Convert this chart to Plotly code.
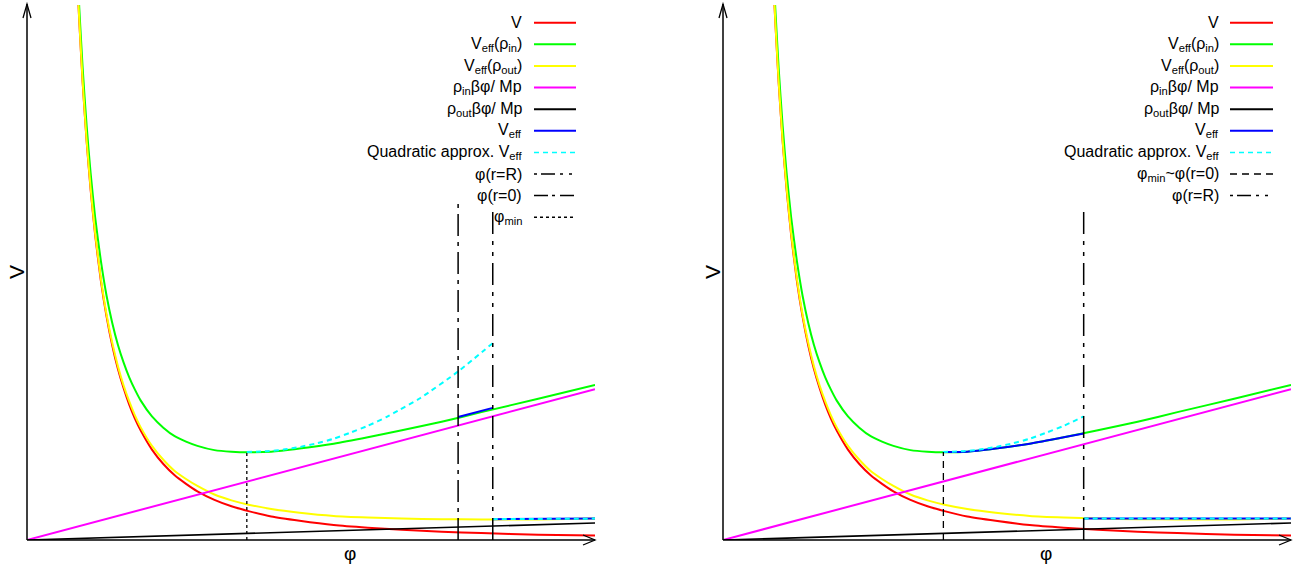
import plotly.graph_objects as go

W, H = 1312, 569

# ---------------- data (phi in axis units 0..10, V in axis units 0..10) ----------------
red_phi = [0.87, 0.92, 0.98, 1.05, 1.12, 1.2, 1.3, 1.4, 1.5, 1.6, 1.7, 1.8, 1.9, 2.0, 2.2, 2.4, 2.6, 2.8,
           3.0, 3.3, 3.6, 3.9, 4.3, 4.8, 5.4, 6.0, 6.6, 7.3, 8.0, 9.0, 10.0]
red_V = [10.8, 9.7, 8.55, 7.45, 6.55, 5.7, 4.85, 4.18, 3.64, 3.2, 2.84, 2.53, 2.27, 2.05, 1.69, 1.42, 1.21, 1.05,
         0.91, 0.75, 0.63, 0.54, 0.44, 0.36, 0.28, 0.23, 0.19, 0.155, 0.13, 0.10, 0.085]

green_phi = [0.89, 0.92, 0.98, 1.05, 1.12, 1.2, 1.3, 1.4, 1.5, 1.6, 1.7, 1.8, 1.9, 2.0, 2.2, 2.4, 2.6, 2.8,
             3.0, 3.3, 3.6, 3.9, 4.3, 4.8, 5.4, 6.0, 6.6, 7.3, 8.0, 9.0, 10.0]
green_V = [10.6, 9.95, 8.82, 7.74, 6.86, 6.03, 5.22, 4.57, 4.06, 3.65, 3.32, 3.04, 2.81, 2.61, 2.31, 2.10, 1.94, 1.84,
           1.76, 1.68, 1.65, 1.64, 1.65, 1.71, 1.80, 1.92, 2.05, 2.21, 2.39, 2.64, 2.90]

yellow_phi = [0.875, 0.92, 0.98, 1.05, 1.12, 1.2, 1.3, 1.4, 1.5, 1.6, 1.7, 1.8, 1.9, 2.0, 2.2, 2.4, 2.6, 2.8,
              3.0, 3.3, 3.6, 3.9, 4.3, 4.8, 5.4, 6.0, 6.6, 7.3, 8.0, 9.0, 10.0]
yellow_V = [10.74, 9.72, 8.57, 7.47, 6.58, 5.73, 4.89, 4.22, 3.69, 3.25, 2.89, 2.59, 2.33, 2.11, 1.76, 1.50, 1.29, 1.14,
            1.01, 0.85, 0.74, 0.66, 0.58, 0.51, 0.45, 0.42, 0.40, 0.39, 0.385, 0.385, 0.40]

magenta_phi = [0.0, 10.0]
magenta_V = [0.0, 2.82]

black_phi = [0.0, 10.0]
black_V = [0.0, 0.318]

quad_phi = [3.87, 4.23, 4.52, 4.81, 5.11, 5.39, 5.70, 5.99, 6.35, 6.57, 6.92, 7.59, 8.20]
quad_V = [1.645, 1.66, 1.69, 1.74, 1.81, 1.89, 2.01, 2.13, 2.31, 2.44, 2.65, 3.15, 3.68]

# Veff (full solution) pieces
blue_in_left_phi = [7.59, 8.20]
blue_in_left_V = [2.30, 2.47]
blue_out_left_phi = [8.20, 10.0]
blue_out_left_V = [0.39, 0.40]

blue_in_right_phi = [3.88, 4.30, 4.80, 5.40, 6.00, 6.35]
blue_in_right_V = [1.645, 1.65, 1.71, 1.80, 1.92, 1.99]
blue_out_right_phi = [6.35, 10.0]
blue_out_right_V = [0.40, 0.40]

# vertical markers: (phi, top V)
left_phi_min, left_phi_min_top = 3.87, 1.645
left_phi_r0, left_phi_r0_top = 7.59, 6.32
left_phi_R, left_phi_R_top = 8.20, 6.27
right_phi_min, right_phi_min_top = 3.88, 1.645
right_phi_R, right_phi_R_top = 6.35, 6.26

legend_left = ["V", "V<sub>eff</sub>(ρ<sub>in</sub>)", "V<sub>eff</sub>(ρ<sub>out</sub>)",
               "ρ<sub>in</sub>βφ/ Mp", "ρ<sub>out</sub>βφ/ Mp", "V<sub>eff</sub>",
               "Quadratic approx. V<sub>eff</sub>", "φ(r=R)", "φ(r=0)", "φ<sub>min</sub>"]
legend_right = ["V", "V<sub>eff</sub>(ρ<sub>in</sub>)", "V<sub>eff</sub>(ρ<sub>out</sub>)",
                "ρ<sub>in</sub>βφ/ Mp", "ρ<sub>out</sub>βφ/ Mp", "V<sub>eff</sub>",
                "Quadratic approx. V<sub>eff</sub>", "φ<sub>min</sub>~φ(r=0)", "φ(r=R)"]
x_label = "φ"
y_label = "V"

# ---------------- styles ----------------
RED, GREEN, YELLOW, MAG, BLK, BLUE, CYAN = "#ff0000", "#00ff00", "#ffff00", "#ff00ff", "#000000", "#0000ff", "#00ffff"
LW = 2
DASH_CYAN = "5px,4px"
DASH_R = "22px,7px,4px,7px,4px,7px"
DASH_R0 = "22px,6px,4px,6px"
DASH_MIN_DOT = "3px,3px"
DASH_MIN_DASH = "7px,5px"
LEG_DASH_R = "3px,4px,14px,5px,3px,6px,3px,6px"
LEG_DASH_R0 = "14px,4px,3px,5px"

fig = go.Figure()


def add(xs, ys, color, ax, dash="solid", width=LW, spline=True):
    fig.add_trace(go.Scatter(
        x=xs, y=ys, mode="lines", xaxis=ax[0], yaxis=ax[1],
        line=dict(color=color, width=width, dash=dash,
                  shape="spline" if spline else "linear", smoothing=0.6),
        hoverinfo="skip", showlegend=False))


def curves(ax):
    add(red_phi, red_V, RED, ax)
    add(green_phi, green_V, GREEN, ax)
    add(yellow_phi, yellow_V, YELLOW, ax)
    add(magenta_phi, magenta_V, MAG, ax, spline=False)
    add(black_phi, black_V, BLK, ax, width=1.6, spline=False)


# left panel
axL = ("x", "y")
curves(axL)
add(blue_in_left_phi, blue_in_left_V, BLUE, axL, spline=False)
add(blue_out_left_phi, blue_out_left_V, BLUE, axL, spline=False)
add(quad_phi, quad_V, CYAN, axL, dash=DASH_CYAN)
add(blue_out_left_phi, blue_out_left_V, CYAN, axL, dash=DASH_CYAN, spline=False)
add([left_phi_min, left_phi_min], [0, left_phi_min_top], BLK, axL, dash=DASH_MIN_DOT, width=1.3, spline=False)
add([left_phi_r0, left_phi_r0], [0, left_phi_r0_top], BLK, axL, dash=DASH_R0, width=1.5, spline=False)
add([left_phi_R, left_phi_R], [0, left_phi_R_top], BLK, axL, dash=DASH_R, width=1.5, spline=False)

# right panel
axR = ("x2", "y2")
curves(axR)
add(blue_in_right_phi, blue_in_right_V, BLUE, axR)
add(blue_out_right_phi, blue_out_right_V, BLUE, axR, spline=False)
qp = [p for p in quad_phi if p <= right_phi_R]
qv = [v for p, v in zip(quad_phi, quad_V) if p <= right_phi_R]
add(qp, qv, CYAN, axR, dash=DASH_CYAN)
add(blue_out_right_phi, blue_out_right_V, CYAN, axR, dash=DASH_CYAN, spline=False)
add([right_phi_min, right_phi_min], [0, right_phi_min_top], BLK, axR, dash=DASH_MIN_DASH, width=1.3, spline=False)
add([right_phi_R, right_phi_R], [0, right_phi_R_top], BLK, axR, dash=DASH_R, width=1.5, spline=False)


def pxx(x):
    return x / W


def pyy(y):
    return 1 - y / H


shapes = []
annotations = []
FONT = "Liberation Sans, Arial, sans-serif"


def axes_arrows(x0, x1):
    y0 = 540
    ytop = 4
    shapes.append(dict(type="line", xref="paper", yref="paper", x0=pxx(x0), y0=pyy(y0), x1=pxx(x1), y1=pyy(y0),
                       line=dict(color="black", width=1.5)))
    shapes.append(dict(type="line", xref="paper", yref="paper", x0=pxx(x0), y0=pyy(y0), x1=pxx(x0), y1=pyy(ytop),
                       line=dict(color="black", width=1.5)))
    shapes.append(dict(type="path", xref="paper", yref="paper",
                       path=f"M {pxx(x1-12)},{pyy(y0-5)} L {pxx(x1)},{pyy(y0)} L {pxx(x1-12)},{pyy(y0+5)}",
                       line=dict(color="black", width=1.3)))
    shapes.append(dict(type="path", xref="paper", yref="paper",
                       path=f"M {pxx(x0-4)},{pyy(ytop+14)} L {pxx(x0)},{pyy(ytop)} L {pxx(x0+4)},{pyy(ytop+14)}",
                       line=dict(color="black", width=1.3)))


axes_arrows(27, 595)
axes_arrows(723, 1291)

row_y = [22.7, 44.3, 66, 87.6, 109.2, 130.8, 152.4, 174, 195.6, 217.2]
left_styles = [(RED, "solid"), (GREEN, "solid"), (YELLOW, "solid"), (MAG, "solid"), (BLK, "solid"),
               (BLUE, "solid"), (CYAN, DASH_CYAN), (BLK, LEG_DASH_R), (BLK, LEG_DASH_R0), (BLK, DASH_MIN_DOT)]
right_styles = [(RED, "solid"), (GREEN, "solid"), (YELLOW, "solid"), (MAG, "solid"), (BLK, "solid"),
                (BLUE, "solid"), (CYAN, DASH_CYAN), (BLK, DASH_MIN_DASH), (BLK, LEG_DASH_R)]


def legend(labels, styles, text_right, s0, s1):
    for i, (lab, (col, dash)) in enumerate(zip(labels, styles)):
        y = row_y[i]
        annotations.append(dict(xref="paper", yref="paper", x=pxx(text_right), y=pyy(y), text=lab,
                                showarrow=False, xanchor="right", yanchor="middle",
                                font=dict(family=FONT, size=16, color="black")))
        w = 2 if dash == "solid" else 1.5
        shapes.append(dict(type="line", xref="paper", yref="paper", x0=pxx(s0), y0=pyy(y), x1=pxx(s1), y1=pyy(y),
                           line=dict(color=col, width=w, dash=dash)))


legend(legend_left, left_styles, 524, 534, 576)
legend(legend_right, right_styles, 1221, 1230, 1273)

for xl, xv in [(350, 16), (1046, 712)]:
    annotations.append(dict(xref="paper", yref="paper", x=pxx(xl), y=pyy(553), text=x_label, showarrow=False,
                            xanchor="center", yanchor="middle", font=dict(family=FONT, size=19, color="black")))
    annotations.append(dict(xref="paper", yref="paper", x=pxx(xv), y=pyy(272), text=y_label, showarrow=False,
                            xanchor="center", yanchor="middle", textangle=-90,
                            font=dict(family=FONT, size=21, color="black")))

ax_common = dict(visible=False, range=[0, 10], fixedrange=True)
fig.update_layout(
    width=W, height=H, margin=dict(l=0, r=0, t=0, b=0),
    paper_bgcolor="white", plot_bgcolor="white", showlegend=False,
    xaxis=dict(domain=[27 / W, 595 / W], anchor="y", **ax_common),
    yaxis=dict(domain=[1 - 540 / H, 1 - 5 / H], anchor="x", **ax_common),
    xaxis2=dict(domain=[723 / W, 1291 / W], anchor="y2", **ax_common),
    yaxis2=dict(domain=[1 - 540 / H, 1 - 5 / H], anchor="x2", **ax_common),
    shapes=shapes, annotations=annotations,
    font=dict(family=FONT),
)

fig.write_html("out.html", config={"displayModeBar": False},
               post_script="document.body.style.margin='0px';document.body.style.overflow='hidden';")
